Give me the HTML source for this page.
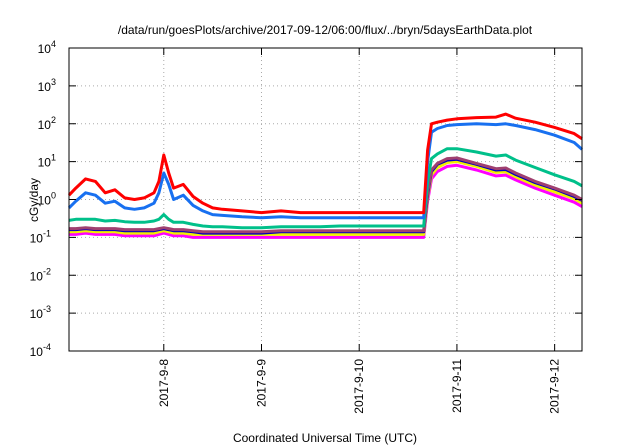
<!DOCTYPE html>
<html><head><meta charset="utf-8"><style>
body{margin:0;background:#fff}
svg{display:block;font-family:"Liberation Sans",sans-serif}
</style></head><body>
<svg id="c" width="640" height="448">
<text x="325" y="34" font-size="12" text-anchor="middle">/data/run/goesPlots/archive/2017-09-12/06:00/flux/../bryn/5daysEarthData.plot</text>
<text x="325" y="442" font-size="12" text-anchor="middle">Coordinated Universal Time (UTC)</text>
<text transform="translate(38,200) rotate(-90)" font-size="12" text-anchor="middle">cGy/day</text>
<g id="grid"></g><g id="series"></g><g id="axes"></g>
</svg>
<script>
const tDays=[0.03,0.1,0.2,0.3,0.4,0.5,0.6,0.7,0.8,0.9,0.95,1.0,1.05,1.1,1.2,1.3,1.4,1.5,1.6,1.8,2.0,2.2,2.4,2.6,2.8,3.0,3.2,3.4,3.6,3.66,3.7,3.74,3.8,3.9,4.0,4.2,4.4,4.5,4.6,4.8,5.0,5.2,5.28];
const red=[1.3,2.0,3.5,3.0,1.5,1.8,1.1,1.0,1.1,1.5,3,15,5,2,2.5,1.2,0.8,0.6,0.55,0.5,0.45,0.5,0.45,0.45,0.45,0.45,0.45,0.45,0.45,0.45,20,100,110,125,135,145,150,180,140,110,80,55,40];
const blue=[0.6,0.9,1.5,1.3,0.8,0.9,0.6,0.55,0.6,0.8,1.5,5,2.5,1.0,1.3,0.7,0.5,0.4,0.38,0.35,0.33,0.35,0.33,0.33,0.33,0.33,0.33,0.33,0.33,0.33,10,60,75,90,95,100,95,100,90,70,50,32,21];
const green=[0.28,0.3,0.3,0.3,0.27,0.28,0.26,0.25,0.25,0.27,0.3,0.4,0.3,0.25,0.25,0.22,0.2,0.19,0.19,0.18,0.18,0.19,0.19,0.19,0.2,0.2,0.2,0.2,0.2,0.2,3,12,16,22,22,18,14,15,11,7,4.5,3,2.3];
const maroon=[0.17,0.17,0.18,0.17,0.17,0.17,0.16,0.16,0.16,0.16,0.17,0.18,0.17,0.16,0.16,0.15,0.14,0.14,0.14,0.14,0.14,0.15,0.15,0.15,0.15,0.15,0.15,0.15,0.15,0.15,1.5,6,9,12,12.5,9,6.5,6.8,5,3,2,1.3,1.0];
const navy=[0.16,0.16,0.17,0.16,0.16,0.16,0.15,0.15,0.15,0.15,0.16,0.17,0.16,0.15,0.15,0.14,0.13,0.13,0.13,0.13,0.13,0.14,0.14,0.14,0.14,0.14,0.14,0.14,0.14,0.14,1.3,5.5,8.5,11,11.5,8.5,6,6.2,4.6,2.8,1.9,1.2,0.95];
const yellow=[0.14,0.14,0.15,0.14,0.14,0.14,0.13,0.13,0.13,0.13,0.14,0.15,0.14,0.13,0.13,0.12,0.12,0.12,0.12,0.12,0.12,0.12,0.12,0.12,0.12,0.12,0.12,0.12,0.12,0.12,1.1,4.5,7,9.5,10,7.5,5.2,5.4,4,2.4,1.6,1.05,0.8];
const magenta=[0.12,0.12,0.13,0.12,0.12,0.12,0.11,0.11,0.11,0.11,0.12,0.13,0.12,0.11,0.11,0.1,0.1,0.1,0.1,0.1,0.1,0.1,0.1,0.1,0.1,0.1,0.1,0.1,0.1,0.1,0.9,3.5,5.5,7.5,8,6,4.2,4.4,3.3,2,1.3,0.85,0.65];
const xTickDays=[1,2,3,4,5];
const xTickLabels=["2017-9-8","2017-9-9","2017-9-10","2017-9-11","2017-9-12"];
const yExps=[-4,-3,-2,-1,0,1,2,3,4];
const L=69,R=582,T=48,B=351,D0=0.03,D1=5.28;
const X=d=>L+(d-D0)/(D1-D0)*(R-L);
const Y=v=>B-(Math.log10(v)+4)/8*(B-T);
const NS="http://www.w3.org/2000/svg";
function mk(tag,attrs,parent){const e=document.createElementNS(NS,tag);for(const k in attrs)e.setAttribute(k,attrs[k]);parent.appendChild(e);return e;}
const grid=document.getElementById('grid'),axes=document.getElementById('axes'),ser=document.getElementById('series');
yExps.forEach((e,i)=>{const y=Y(Math.pow(10,e));
 if(i>0&&i<yExps.length-1){const g=mk('line',{x1:L,x2:R,y1:y,y2:y,stroke:'#aaa','stroke-dasharray':'1,3'},grid);
 
 }
 mk('line',{x1:L,x2:L+7,y1:y,y2:y,stroke:'#000'},axes);mk('line',{x1:R,x2:R-7,y1:y,y2:y,stroke:'#000'},axes);
 const t=mk('text',{x:L-8,y:y+5,'font-size':'12','text-anchor':'end'},axes);
 
 
 t.textContent='10';const s=mk('tspan',{dy:'-6','font-size':'9'},t);s.textContent=String(e);
 t.setAttribute('x',L-8-(String(e).length*5));
});
xTickDays.forEach((d,i)=>{const x=X(d);
 const g=mk('line',{x1:x,x2:x,y1:T,y2:B,stroke:'#aaa','stroke-dasharray':'1,3'},grid);
 
 
 mk('line',{x1:x,x2:x,y1:B,y2:B-7,stroke:'#000'},axes);mk('line',{x1:x,x2:x,y1:T,y2:T+7,stroke:'#000'},axes);
 const t=mk('text',{transform:`translate(${x+4},359) rotate(-90)`,'font-size':'12','text-anchor':'end'},axes);
 
 
 t.textContent=xTickLabels[i];
});
const fr=mk('rect',{x:L,y:T,width:R-L,height:B-T,fill:'none',stroke:'#000'},axes);


const S=[[magenta,'#ff00ff','magenta'],[yellow,'#f0f000','yellow'],[navy,'#0000c0','navy'],[maroon,'#a04070','maroon'],[green,'#00c08a','green'],[blue,'#1870f0','blue'],[red,'#ff0000','red']];
S.forEach(([vals,col,nm])=>{const pts=tDays.map((d,i)=>X(d).toFixed(1)+','+Y(vals[i]).toFixed(1)).join(' ');
 const p=mk('polyline',{points:pts,fill:'none',stroke:col,'stroke-width':'3','stroke-linejoin':'round'},ser);
 
 
});
</script>
</body></html>
